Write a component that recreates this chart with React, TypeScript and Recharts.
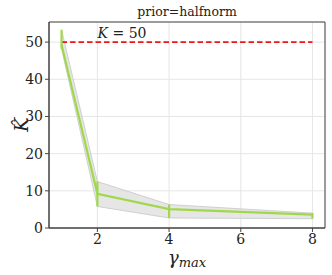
import React from 'react';
import {
  ComposedChart,
  Line,
  Area,
  XAxis,
  YAxis,
  CartesianGrid,
  ErrorBar,
  ReferenceLine,
  ReferenceArea
} from 'recharts';

const gammaMax = [1, 2, 4, 8];
const meanK = [49.3, 9.2, 5.1, 3.6];
const lowK = [48.2, 5.8, 2.7, 2.5];
const highK = [53.3, 12.5, 6.3, 4.0];
const xTicks = [2, 4, 6, 8];
const yTicks = [0, 10, 20, 30, 40, 50];
const trueK = 50;

const X_MIN = 0.65;
const X_MAX = 8.35;
const Y_MAX = 55.4;

const SERIF = 'DejaVu Serif';
const GREEN = '#a0d84b';
const FRAME = '#444444';

const chartData = gammaMax.map((x, i) => ({
  x,
  mean: meanK[i],
  band: [lowK[i], highK[i]],
  err: [meanK[i] - lowK[i], highK[i] - meanK[i]]
}));

const renderTitle = (props: any) => {
  const { viewBox } = props;
  return (
    <text
      x={viewBox.x + viewBox.width / 2}
      y={viewBox.y - 6}
      textAnchor="middle"
      fontFamily={SERIF}
      fontSize={12.5}
      fill="#222"
    >
      prior=halfnorm
    </text>
  );
};

const renderKLabel = (props: any) => {
  const { viewBox } = props;
  return (
    <text x={viewBox.x + 36} y={viewBox.y - 4.5} fontFamily={SERIF} fontSize={14} fill="#222">
      <tspan fontStyle="italic">K</tspan>
      <tspan> = 50</tspan>
    </text>
  );
};

const renderYLabel = (props: any) => {
  const { viewBox } = props;
  const cx = viewBox.x + 21;
  const cy = viewBox.y + viewBox.height / 2;
  return (
    <text
      x={cx}
      y={cy}
      transform={`rotate(-90, ${cx}, ${cy})`}
      textAnchor="middle"
      dominantBaseline="central"
      fontFamily={SERIF}
      fontStyle="italic"
      fontSize={19}
      fill="#222"
    >
      {'K\u0302'}
    </text>
  );
};

const renderXLabel = (props: any) => {
  const { viewBox } = props;
  return (
    <text
      x={viewBox.x + viewBox.width / 2}
      y={viewBox.y + 36}
      textAnchor="middle"
      fontFamily={SERIF}
      fontStyle="italic"
      fill="#222"
    >
      <tspan fontSize={18}>γ</tspan>
      <tspan fontSize={13} dy={3}>max</tspan>
    </text>
  );
};

const App: React.FC = () => {
  return (
    <div style={{ position: 'absolute', left: 0, top: 0 }}>
      <ComposedChart
        width={332}
        height={275}
        data={chartData}
        margin={{ top: 22, right: 7, bottom: 0, left: 0 }}
      >
        <CartesianGrid stroke="#e6e6e6" strokeWidth={1} />
        <XAxis
          dataKey="x"
          type="number"
          domain={[X_MIN, X_MAX]}
          ticks={xTicks}
          allowDataOverflow
          height={47}
          stroke={FRAME}
          tickSize={4}
          tickMargin={2}
          tick={{ fill: '#222', fontFamily: SERIF, fontSize: 14 }}
          label={{ content: renderXLabel }}
        />
        <YAxis
          type="number"
          domain={[0, Y_MAX]}
          ticks={yTicks}
          allowDataOverflow
          width={49}
          stroke={FRAME}
          tickSize={4}
          tickMargin={2}
          tick={{ fill: '#222', fontFamily: SERIF, fontSize: 14 }}
          label={{ content: renderYLabel }}
        />
        <Area
          dataKey="band"
          type="linear"
          fill="#dcdcdc"
          fillOpacity={0.7}
          stroke="#d0d0d0"
          strokeWidth={1}
          isAnimationActive={false}
          dot={false}
          activeDot={false}
        />
        <ReferenceLine
          segment={[{ x: gammaMax[0], y: trueK }, { x: gammaMax[gammaMax.length - 1], y: trueK }]}
          stroke="#e8191c"
          strokeWidth={1.8}
          strokeDasharray="5.5 3"
          label={{ content: renderKLabel }}
        />
        <Line
          dataKey="mean"
          type="linear"
          stroke={GREEN}
          strokeWidth={2.2}
          dot={false}
          activeDot={false}
          isAnimationActive={false}
        >
          <ErrorBar dataKey="err" direction="y" width={0} stroke={GREEN} strokeWidth={2.2} isAnimationActive={false} />
        </Line>
        <ReferenceArea
          x1={X_MIN}
          x2={X_MAX}
          y1={0}
          y2={Y_MAX}
          fill="none"
          stroke={FRAME}
          strokeWidth={1}
          label={{ content: renderTitle }}
        />
      </ComposedChart>
    </div>
  );
};

export default App;
